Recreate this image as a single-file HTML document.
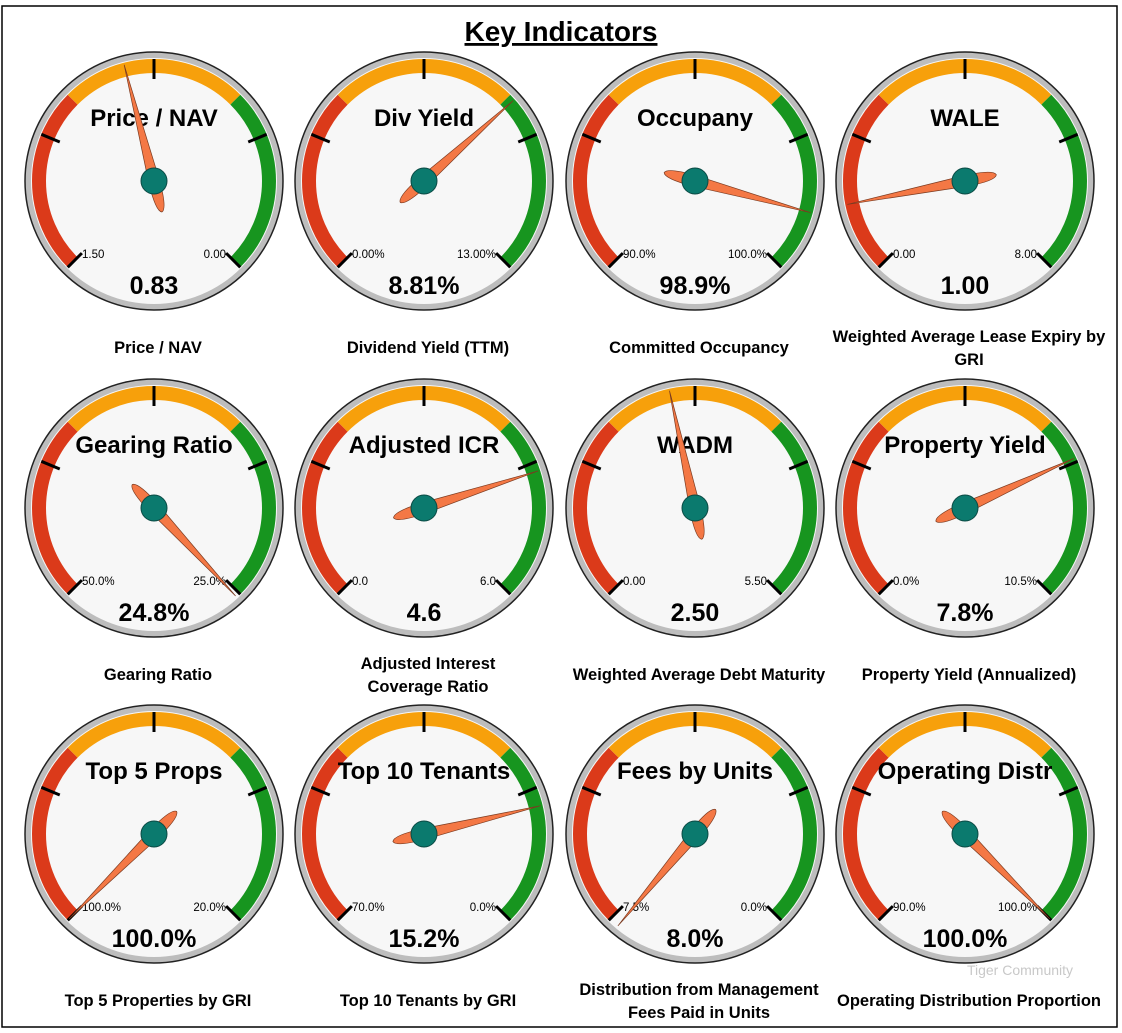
<!DOCTYPE html>
<html><head><meta charset="utf-8"><style>
body{margin:0;background:#fff;}
svg{display:block;}
.t{font-family:"Liberation Sans",sans-serif;}
</style></head><body>
<svg id="c" width="1122" height="1033" viewBox="0 0 1122 1033" xmlns="http://www.w3.org/2000/svg">
<rect x="2" y="6" width="1115" height="1021" fill="#fff" stroke="#000" stroke-width="1.5"/>
<text x="561" y="41" text-anchor="middle" class="t" font-size="28" font-weight="bold" text-decoration="underline">Key Indicators</text>
<text x="1020" y="975" text-anchor="middle" class="t" font-size="14" fill="#bbb" opacity="0.8">Tiger Community</text>
</svg>
<script>
const titles=["Price / NAV","Div Yield","Occupany","WALE","Gearing Ratio","Adjusted ICR","WADM","Property Yield","Top 5 Props","Top 10 Tenants","Fees by Units","Operating Distr"];
const minVals=[1.5,0,90,0,50,0,0,0,100,70,7.5,90];
const maxVals=[0,13,100,8,25,6,5.5,10.5,20,0,0,100];
const values=[0.83,8.81,98.9,1.00,24.8,4.6,2.50,7.8,100,15.2,8.0,100];
const valueLabels=["0.83","8.81%","98.9%","1.00","24.8%","4.6","2.50","7.8%","100.0%","15.2%","8.0%","100.0%"];
const minLabels=["1.50","0.00%","90.0%","0.00","50.0%","0.0","0.00","0.0%","100.0%","70.0%","7.5%","90.0%"];
const maxLabels=["0.00","13.00%","100.0%","8.00","25.0%","6.0","5.50","10.5%","20.0%","0.0%","0.0%","100.0%"];
const captions=[["Price / NAV"],["Dividend Yield (TTM)"],["Committed Occupancy"],["Weighted Average Lease Expiry by","GRI"],["Gearing Ratio"],["Adjusted Interest","Coverage Ratio"],["Weighted Average Debt Maturity"],["Property Yield (Annualized)"],["Top 5 Properties by GRI"],["Top 10 Tenants by GRI"],["Distribution from Management","Fees Paid in Units"],["Operating Distribution Proportion"]];
const NS="http://www.w3.org/2000/svg";
const svg=document.getElementById('c');
const colX=[154,424,695,965], rowY=[181,508,834];
function mk(tag,attrs,parent){const e=document.createElementNS(NS,tag);for(const k in attrs)e.setAttribute(k,attrs[k]);(parent||svg).appendChild(e);return e;}
function pt(cx,cy,r,a){const t=a*Math.PI/180;return [cx+r*Math.sin(t),cy-r*Math.cos(t)];}
function arc(cx,cy,r,a0,a1){const p0=pt(cx,cy,r,a0),p1=pt(cx,cy,r,a1);return `M${p0[0]},${p0[1]} A${r},${r} 0 ${a1-a0>180?1:0} 1 ${p1[0]},${p1[1]}`;}
function angleOf(i){let f=(values[i]-minVals[i])/(maxVals[i]-minVals[i]);let a=-135+f*270;return Math.max(-140,Math.min(140,a));}
for(let i=0;i<12;i++){
  const cx=colX[i%4], cy=rowY[Math.floor(i/4)];
  const g=mk('g',{});
  
  
  mk('circle',{cx:cx,cy:cy,r:129,fill:'#bdbdbd',stroke:'#222','stroke-width':1.5},g);
  mk('circle',{cx:cx,cy:cy,r:123,fill:'#f7f7f7'},g);
  const bands=[[-135,-45,'#db3a1a'],[-45,45,'#f7a00b'],[45,135,'#17951f']];
  bands.forEach(b=>{const p=mk('path',{d:arc(cx,cy,115,b[0],b[1]),fill:'none',stroke:b[2],'stroke-width':14},g);
    
    });
  for(let k=0;k<5;k++){const a=-135+k*67.5;const p0=pt(cx,cy,122,a),p1=pt(cx,cy,102,a);
    const l=mk('line',{x1:p0[0],y1:p0[1],x2:p1[0],y2:p1[1],stroke:'#000','stroke-width':3},g);
    
    }
  const tt=mk('text',{x:cx,y:cy-55,'text-anchor':'middle','font-size':24,'font-weight':'bold',class:'t'},g);tt.textContent=titles[i];
  
  
  const mn=mk('text',{x:cx-72,y:cy+77,'font-size':11.5,class:'t'},g);mn.textContent=minLabels[i];
  
  
  const mx=mk('text',{x:cx+72,y:cy+77,'font-size':11.5,'text-anchor':'end',class:'t'},g);mx.textContent=maxLabels[i];
  
  
  const a=angleOf(i);
  const nd=mk('path',{d:'M0,-120 L5.5,0 Q6,30 0,32 Q-6,30 -5.5,0 Z',fill:'#f47845',stroke:'#7a3a20','stroke-width':0.7,transform:`translate(${cx},${cy}) rotate(${a})`},g);
  
  
  const hub=mk('circle',{cx:cx,cy:cy,r:13,fill:'#0b7a6e',stroke:'#0a4a44','stroke-width':1},g);
  
  
  const v=mk('text',{x:cx,y:cy+113,'text-anchor':'middle','font-size':25,'font-weight':'bold',class:'t'},g);v.textContent=valueLabels[i];
  
  
  const cap=captions[i];
  const y0=cap.length===1?cy+172:cy+161;
  cap.forEach((s,j)=>{const c=mk('text',{x:cx+4,y:y0+j*23,'text-anchor':'middle','font-size':16.5,'font-weight':'bold',class:'t'},g);c.textContent=s;
    
    });
}
</script>
</body></html>
